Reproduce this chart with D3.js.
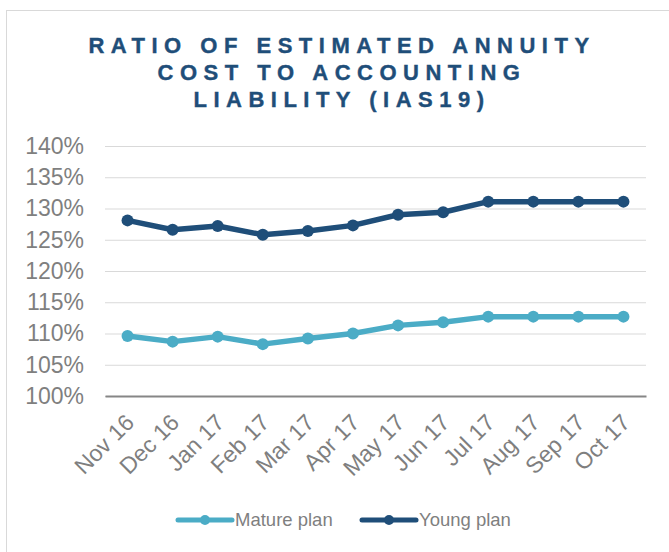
<!DOCTYPE html>
<html>
<head>
<meta charset="utf-8">
<script src="https://cdn.jsdelivr.net/npm/d3@7"></script>
<style>
  html, body { margin: 0; padding: 0; background: #fff; }
  svg { display: block; font-family: "Liberation Sans", Arial, sans-serif; }
</style>
</head>
<body>
<svg id="chart"></svg>
<script>
const w = 669
const h = 552

const months = ['Nov 16', 'Dec 16', 'Jan 17', 'Feb 17', 'Mar 17', 'Apr 17', 'May 17', 'Jun 17', 'Jul 17', 'Aug 17', 'Sep 17', 'Oct 17']
const mature = [109.6, 108.7, 109.5, 108.3, 109.2, 110.0, 111.3, 111.8, 112.7, 112.7, 112.7, 112.7]
const young = [128.1, 126.6, 127.2, 125.8, 126.4, 127.3, 129.0, 129.4, 131.1, 131.1, 131.1, 131.1]
const yTicks = [100, 105, 110, 115, 120, 125, 130, 135, 140]
const titleLines = ['RATIO OF ESTIMATED ANNUITY', 'COST TO ACCOUNTING', 'LIABILITY (IAS19)']
const seriesNames = ['Mature plan', 'Young plan']

const colors = { mature: '#4bacc6', young: '#1f4e79' }
const grey = '#7f7f7f'
const margin = { left: 105, right: 646, top: 146, bottom: 396 }

const SVG = d3.select('#chart')
	.attr('width', w)
	.attr('height', h)

// outer frame (only top and left edges fall inside the window)
SVG.append('rect')
	.attr('x', 6.5).attr('y', 10.5)
	.attr('width', 700).attr('height', 600)
	.attr('fill', '#fff')
	.attr('stroke', '#d9d9d9')

// title
SVG.append('g').selectAll('text').data(titleLines).enter().append('text')
	.attr('x', 342)
	.attr('y', (_, i) => 53.3 + i * 26.7)
	.attr('text-anchor', 'middle')
	.attr('font-size', 22)
	.attr('font-weight', 'bold')
	.attr('letter-spacing', 6.5)
	.attr('fill', colors.young)
	.attr('stroke', colors.young)
	.attr('stroke-width', 0.4)
	.text(d => d)

let xScale = d3.scaleBand()
	.domain(months)
	.range([margin.left, margin.right])
let yScale = d3.scaleLinear()
	.domain([100, 140])
	.range([margin.bottom, margin.top])
const cx = d => xScale(d) + xScale.bandwidth() / 2

// y axis + gridlines
let yAxis = SVG.append('g')
	.attr('transform', `translate(${margin.left},0)`)
	.call(d3.axisLeft(yScale)
		.tickValues(yTicks)
		.tickFormat(d => d + '%')
		.tickSize(-(margin.right - margin.left))
		.tickPadding(21))
yAxis.select('.domain').remove()
yAxis.selectAll('line').attr('stroke', '#d9d9d9').attr('stroke-width', 1)
yAxis.selectAll('text')
	.attr('font-size', 23)
	.attr('font-family', '"Liberation Sans", Arial, sans-serif')
	.attr('fill', grey)

// x axis
let xAxis = SVG.append('g')
	.attr('transform', `translate(0,${margin.bottom})`)
	.call(d3.axisBottom(xScale).tickSize(0).tickSizeOuter(0))
xAxis.select('.domain').attr('stroke', '#868686').attr('stroke-width', 2)
xAxis.selectAll('text')
	.attr('x', 0).attr('y', 0).attr('dy', null)
	.attr('transform', 'translate(8,28) rotate(-45)')
	.attr('text-anchor', 'end')
	.attr('font-size', 23)
	.attr('font-family', '"Liberation Sans", Arial, sans-serif')
	.attr('fill', grey)

// lines
const series = [
	{ name: seriesNames[0], values: mature, color: colors.mature },
	{ name: seriesNames[1], values: young, color: colors.young }
]
let line = d3.line()
	.x((_, i) => cx(months[i]))
	.y(d => yScale(d))

series.forEach(s => {
	SVG.append('path')
		.attr('d', line(s.values))
		.attr('fill', 'none')
		.attr('stroke', s.color)
		.attr('stroke-width', 5.5)
		.attr('stroke-linejoin', 'round')
	SVG.append('g').selectAll('circle').data(s.values).enter().append('circle')
		.attr('cx', (_, i) => cx(months[i]))
		.attr('cy', d => yScale(d))
		.attr('r', 6)
		.attr('fill', s.color)
})

// legend
const legendX = [178, 362]
let legend = SVG.append('g').selectAll('g').data(series).enter().append('g')
	.attr('transform', (_, i) => `translate(${legendX[i]},520)`)
legend.append('line')
	.attr('x1', 0).attr('x2', 54)
	.attr('stroke', d => d.color)
	.attr('stroke-width', 5)
	.attr('stroke-linecap', 'round')
legend.append('circle')
	.attr('cx', 27).attr('r', 5)
	.attr('fill', d => d.color)
legend.append('text')
	.attr('x', 57).attr('dy', '0.35em')
	.attr('font-size', 18.5)
	.attr('fill', grey)
	.text(d => d.name)
</script>
</body>
</html>
